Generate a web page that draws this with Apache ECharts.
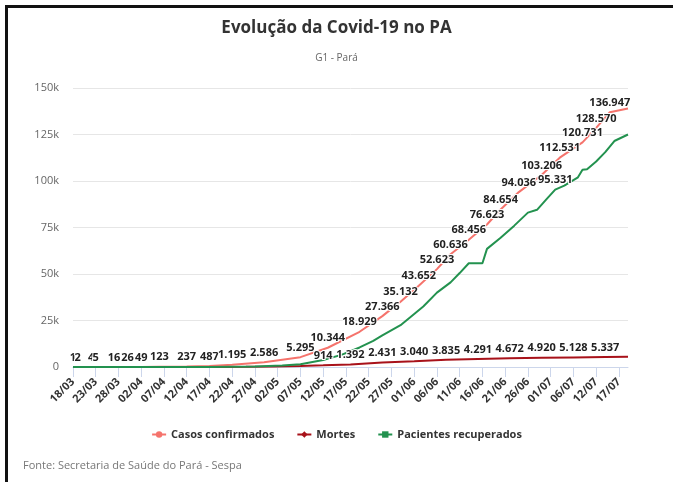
<!DOCTYPE html>
<html>
<head>
<meta charset="utf-8">
<script src="https://cdn.jsdelivr.net/npm/echarts@6/dist/echarts.min.js"></script>
<style>
  html, body { margin: 0; padding: 0; background: #fff; }
  #main { width: 673px; height: 482px; }
</style>
</head>
<body>
<div id="main"></div>
<script>
// eixo x: um dia por categoria, de 18/03 a 19/07 (o painel não tem o dia 09/07)
var missingDays = ['09/07'];
var days = [];
var d = new Date(2020, 2, 18);
while (d <= new Date(2020, 6, 19)) {
    var s = ('0' + d.getDate()).slice(-2) + '/' + ('0' + (d.getMonth() + 1)).slice(-2);
    if (missingDays.indexOf(s) < 0) days.push(s);
    d.setDate(d.getDate() + 1);
}

// casos confirmados (todos com rótulo, menos o último)
var confDates = ['18/03', '19/03', '22/03', '23/03', '27/03', '30/03', '02/04', '06/04', '12/04', '17/04',
    '22/04', '29/04', '07/05', '13/05', '20/05', '25/05', '29/05', '02/06', '06/06', '09/06',
    '13/06', '17/06', '20/06', '24/06', '29/06', '03/07', '08/07', '12/07', '15/07', '19/07'];
var confValues = [1, 2, 4, 5, 16, 26, 49, 123, 237, 487,
    1195, 2586, 5295, 10344, 18929, 27366, 35132, 43652, 52623, 60636,
    68456, 76623, 84654, 94036, 103206, 112531, 120731, 128570, 136947, 139000];

// mortes
var deathDates = ['18/03', '01/04', '12/04', '19/04', '25/04', '01/05', '07/05', '12/05', '18/05', '25/05',
    '01/06', '08/06', '15/06', '22/06', '29/06', '06/07', '14/07', '19/07'];
var deathValues = [0, 1, 10, 40, 120, 270, 560, 914, 1392, 2431,
    3040, 3835, 4291, 4672, 4920, 5128, 5337, 5450];
var deathLabeled = ['12/05', '18/05', '25/05', '01/06', '08/06', '15/06', '22/06', '29/06', '06/07', '14/07'];

// pacientes recuperados
var recDates = ['18/03', '17/04', '27/04', '03/05', '07/05', '12/05', '16/05', '20/05', '23/05', '25/05',
    '29/05', '01/06', '03/06', '06/06', '09/06', '11/06', '13/06', '16/06', '17/06', '20/06',
    '23/06', '26/06', '28/06', '30/06', '02/07', '04/07', '07/07', '08/07', '10/07', '12/07',
    '14/07', '16/07', '19/07'];
var recValues = [0, 50, 300, 800, 1500, 3800, 6500, 10500, 14000, 17000,
    22500, 28500, 32500, 40000, 45500, 50500, 55800, 55800, 63500, 69500,
    76000, 83000, 84500, 90000, 95331, 97500, 102000, 106000, 106300, 110500,
    115500, 121500, 125000];
var recLabeled = ['02/07'];

var yTicks = [0, 25000, 50000, 75000, 100000, 125000, 150000];

function fmt(v) {
    return String(v).replace(/\B(?=(\d{3})+(?!\d))/g, '.');
}

function pts(dates, values, labeled) {
    return dates.map(function (dt, i) {
        return { value: [dt, values[i]], label: { show: labeled(dt, i) } };
    });
}

var labelStyle = {
    position: 'top',
    distance: 4,
    fontFamily: 'Open Sans',
    fontSize: 11,
    fontWeight: 'bold',
    color: '#222',
    textBorderColor: '#fff',
    textBorderWidth: 2,
    formatter: function (p) { return fmt(p.value[1]); }
};

var chart = echarts.init(document.getElementById('main'));

var option = {
    animation: false,
    textStyle: { fontFamily: 'Open Sans' },
    title: {
        text: 'Evolução da Covid-19 no PA',
        subtext: 'G1 - Pará',
        left: 'center',
        top: 15,
        itemGap: 16,
        textStyle: { fontSize: 17, fontWeight: 'bold', color: '#333', fontFamily: 'Open Sans' },
        subtextStyle: { fontSize: 10, color: '#666', fontFamily: 'Open Sans' }
    },
    grid: { left: 73, right: 45, top: 88, bottom: 115 },
    legend: {
        top: 424,
        left: 'center',
        itemWidth: 14,
        itemHeight: 8,
        itemGap: 22,
        textStyle: { fontSize: 11, fontWeight: 'bold', color: '#333' },
        data: ['Casos confirmados', 'Mortes', 'Pacientes recuperados']
    },
    xAxis: {
        type: 'category',
        boundaryGap: false,
        data: days,
        axisLine: { lineStyle: { color: '#ccd6eb', width: 1 } },
        axisTick: { interval: 4, length: 10, lineStyle: { color: '#ccd6eb' } },
        axisLabel: {
            interval: 4,
            rotate: 45,
            margin: 13,
            fontSize: 11,
            fontWeight: 'bold',
            color: '#333'
        },
        splitLine: { show: false }
    },
    yAxis: {
        type: 'value',
        min: yTicks[0],
        max: yTicks[yTicks.length - 1],
        interval: 25000,
        axisLine: { show: false },
        axisTick: { show: false },
        axisLabel: {
            margin: 14,
            fontSize: 11,
            color: '#666',
            formatter: function (v) { return v === 0 ? '0' : (v / 1000) + 'k'; }
        },
        splitLine: { lineStyle: { color: '#e6e6e6' } }
    },
    series: [
        {
            name: 'Casos confirmados',
            type: 'line',
            symbol: 'circle',
            symbolSize: 0,
            showAllSymbol: true,
            color: '#f5736c',
            lineStyle: { width: 2 },
            label: labelStyle,
            data: pts(confDates, confValues, function (dt, i) { return i < confDates.length - 1; })
        },
        {
            name: 'Mortes',
            type: 'line',
            symbol: 'diamond',
            symbolSize: 0,
            showAllSymbol: true,
            color: '#a8121a',
            lineStyle: { width: 2 },
            label: labelStyle,
            data: pts(deathDates, deathValues, function (dt) { return deathLabeled.indexOf(dt) >= 0; })
        },
        {
            name: 'Pacientes recuperados',
            type: 'line',
            symbol: 'rect',
            symbolSize: 0,
            showAllSymbol: true,
            color: '#23924f',
            lineStyle: { width: 2 },
            label: labelStyle,
            data: pts(recDates, recValues, function (dt) { return recLabeled.indexOf(dt) >= 0; })
        }
    ],
    graphic: [
        { type: 'rect', left: 5, top: 5, shape: { width: 668, height: 3 }, style: { fill: '#111' } },
        { type: 'rect', left: 5, top: 5, shape: { width: 3, height: 477 }, style: { fill: '#111' } },
        {
            type: 'text', left: 23, top: 460,
            style: { text: 'Fonte: Secretaria de Saúde do Pará - Sespa', fontSize: 11, fill: '#777', fontFamily: 'Open Sans' }
        }
    ]
};

chart.setOption(option);
</script>
</body>
</html>
